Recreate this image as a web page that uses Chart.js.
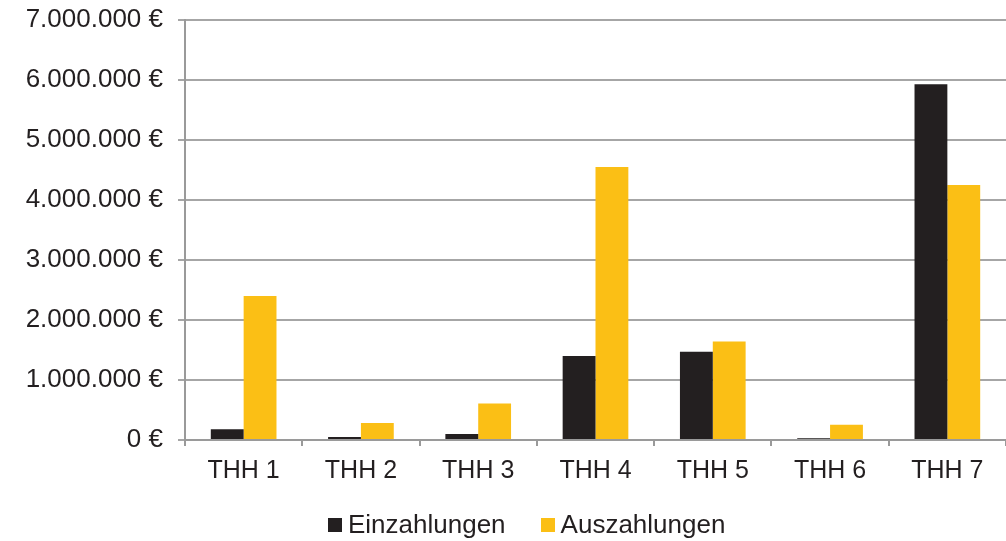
<!DOCTYPE html>
<html>
<head>
    <meta charset="UTF-8">
    <title>Ein- und Auszahlungen</title>
    <style>
        html, body {
            margin: 0;
            padding: 0;
            background-color: #fff;
        }
        #wrap {
            width: 1006px;
            height: 541px;
            position: relative;
        }
        #legend {
            position: absolute;
            left: 328px;
            top: 509px;
            display: flex;
            font-family: 'Liberation Sans', Arial, sans-serif;
            font-size: 26px;
            line-height: 30px;
            color: #231f20;
        }
        #legend .item {
            display: flex;
            align-items: center;
            margin-right: 35px;
        }
        #legend .box {
            width: 14px;
            height: 14px;
            margin-right: 6px;
            margin-top: 1px;
        }
    </style>
</head>
<body>
    <div id="wrap">
        <canvas id="myChart"></canvas>
        <div id="legend"></div>
    </div>

    <script src="https://cdn.jsdelivr.net/npm/chart.js"></script>
    <script>
        // Daten
        var categories = ['THH 1', 'THH 2', 'THH 3', 'THH 4', 'THH 5', 'THH 6', 'THH 7'];
        var einzahlungen = [180000, 50000, 100000, 1400000, 1470000, 30000, 5930000];
        var auszahlungen = [2400000, 285000, 610000, 4550000, 1640000, 255000, 4250000];

        function euro(v) {
            return String(Math.round(v)).replace(/\B(?=(\d{3})+(?!\d))/g, '.') + ' €';
        }

        var fam = 'Liberation Sans, Arial, sans-serif';

        var ctx = document.getElementById('myChart').getContext('2d');
        var chart = new Chart(ctx, {
            type: 'bar',
            data: {
                labels: categories,
                datasets: [{
                    label: 'Einzahlungen',
                    data: einzahlungen,
                    backgroundColor: '#231f20',
                    categoryPercentage: 0.56,
                    barPercentage: 1.0
                }, {
                    label: 'Auszahlungen',
                    data: auszahlungen,
                    backgroundColor: '#fbbf15',
                    categoryPercentage: 0.56,
                    barPercentage: 1.0
                }]
            },
            options: {
                responsive: true,
                maintainAspectRatio: false,
                animation: false,
                layout: {
                    padding: 0
                },
                scales: {
                    x: {
                        grid: {
                            display: true,
                            drawOnChartArea: false,
                            color: '#9a9a9a',
                            lineWidth: 2,
                            tickLength: 6
                        },
                        border: { color: '#9a9a9a', width: 2 },
                        ticks: {
                            color: '#231f20',
                            font: { family: fam, size: 25 },
                            padding: 10
                        },
                        afterFit: function(scale) { scale.height = 101; }
                    },
                    y: {
                        min: 0,
                        max: 7000000,
                        grid: {
                            color: '#a6a6a6',
                            lineWidth: 2,
                            tickLength: 7
                        },
                        border: { color: '#9a9a9a', width: 2 },
                        ticks: {
                            stepSize: 1000000,
                            color: '#231f20',
                            font: { family: fam, size: 26 },
                            padding: 15,
                            callback: function(v) { return euro(v); }
                        },
                        afterFit: function(scale) {
                            scale.width = 185;
                            scale.paddingTop = 20;
                            scale.paddingBottom = 0;
                        }
                    }
                },
                plugins: {
                    legend: { display: false },
                    tooltip: { enabled: false }
                }
            }
        });

        // Legende als HTML
        var legendEl = document.getElementById('legend');
        chart.data.datasets.forEach(function(ds) {
            var item = document.createElement('div');
            item.className = 'item';
            var box = document.createElement('span');
            box.className = 'box';
            box.style.backgroundColor = ds.backgroundColor;
            var txt = document.createElement('span');
            txt.textContent = ds.label;
            item.appendChild(box);
            item.appendChild(txt);
            legendEl.appendChild(item);
        });
    </script>
</body>
</html>
